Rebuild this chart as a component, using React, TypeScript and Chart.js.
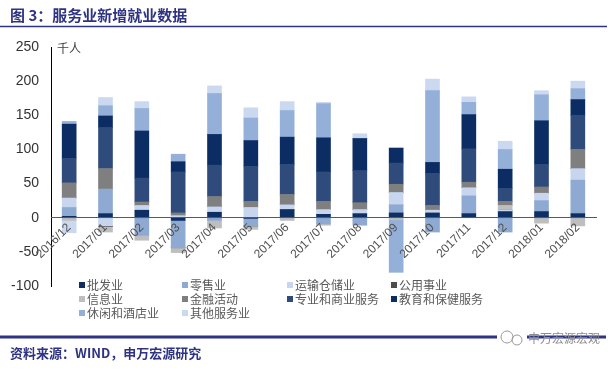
import React, { useEffect, useRef } from "react";
import { Chart, registerables } from "chart.js";

Chart.register(...registerables);

// ---------- data ----------
const categories = [
  "2016/12", "2017/01", "2017/02", "2017/03", "2017/04", "2017/05", "2017/06", "2017/07",
  "2017/08", "2017/09", "2017/10", "2017/11", "2017/12", "2018/01", "2018/02",
];

const seriesNames = [
  "批发业", "零售业", "运输仓储业", "公用事业", "信息业",
  "金融活动", "专业和商业服务", "教育和保健服务", "休闲和酒店业", "其他服务业",
];

const wholesale = [2, 6, 11, -4, 8, -1, 12, 5, 6, 7, 7, 6, 9, 9, 6];
const retail = [13, 36, -26, -40, -4, -11, 0, -9, -11, 12, -21, 26, -21, 16, 49];
const transport = [14, -12, 7, 3, 8, 15, 7, 7, 6, 18, 4, 12, 2, 11, 17];
const utilities = [0, -1, 0, 0, 0, 0, 0, 0, 0, 0, 0, 0, 0, 0, 0];
const information = [-4, -8, -7, -7, -11, -5, -4, -2, 0, -3, 0, 0, 7, -8, -12];
const financial = [22, 30, 5, 4, 15, 9, 15, 12, 10, 12, 7, 8, 6, 9, 28];
const professional = [36, 60, 35, 60, 46, 51, 44, 43, 47, 31, 47, 49, 19, 33, 50];
const eduHealth = [50, 17, 69, 15, 45, 38, 40, 50, 47, 22, 16, 50, 28, 64, 23];
const leisure = [4, 15, 33, 11, 60, 33, 39, 50, 0, -77, 105, 18, 29, 38, 16];
const otherServices = [-18, 12, 10, 0, 11, 15, 13, 2, 7, 0, 17, 8, 12, 6, 11];

const seriesValues = [
  wholesale, retail, transport, utilities, information,
  financial, professional, eduHealth, leisure, otherServices,
];

const yMin = -100;
const yMax = 250;
const yStep = 50;

const titleText = "图 3：服务业新增就业数据";
const sourceText = "资料来源：WIND，申万宏源研究";
const unitText = "千人";
const watermarkText = "申万宏源宏观";

// ---------- styles ----------
const COLORS = [
  "#0E2F62", "#8FAAD2", "#C7D6EE", "#4D4D4D", "#BEBEBE",
  "#7F7F7F", "#2F4B7C", "#0B2D63", "#95B0D8", "#CAD9F0",
];
const NAVY = "#2E3382";
const CJK = '"Noto Sans CJK SC", "Noto Sans", sans-serif';
const NUM = '"Liberation Sans", Arial, sans-serif';

export default function App() {
  const ref = useRef<HTMLCanvasElement>(null);

  useEffect(() => {
    const canvas = ref.current;
    if (!canvas) return;

    const overlay = {
      id: "overlay",
      beforeDraw(chart: any) {
        const ctx = chart.ctx;
        ctx.save();
        ctx.fillStyle = "#ffffff";
        ctx.fillRect(0, 0, chart.width, chart.height);
        ctx.restore();
      },
      afterDraw(chart: any) {
        const ctx = chart.ctx;
        const area = chart.chartArea;
        ctx.save();
        // title
        ctx.fillStyle = NAVY;
        ctx.font = `bold 15px ${CJK}`;
        ctx.textBaseline = "middle";
        ctx.textAlign = "left";
        ctx.fillText(titleText, 10, 15);
        ctx.strokeStyle = NAVY;
        ctx.lineWidth = 1.5;
        ctx.beginPath();
        ctx.moveTo(0, 26.5);
        ctx.lineTo(607, 26.5);
        ctx.stroke();

        // unit label
        ctx.fillStyle = "#404040";
        ctx.font = `12px ${CJK}`;
        ctx.fillText(unitText, area.left + 6, area.top + 1);

        // legend
        const cols = [82, 185, 290, 394];
        const rows = [285, 299, 313];
        ctx.font = `12px ${CJK}`;
        chart.data.datasets.forEach((ds: any, i: number) => {
          const cx = cols[i % 4];
          const cy = rows[Math.floor(i / 4)];
          ctx.fillStyle = ds.backgroundColor;
          ctx.fillRect(cx - 3, cy - 3, 6, 6);
          ctx.fillStyle = "#595959";
          ctx.fillText(ds.label, cx + 5, cy);
        });

        // bottom rule + source
        ctx.strokeStyle = NAVY;
        ctx.lineWidth = 3;
        ctx.beginPath();
        ctx.moveTo(0, 337);
        ctx.lineTo(606, 337);
        ctx.stroke();
        ctx.fillStyle = NAVY;
        ctx.font = `bold 13px ${CJK}`;
        ctx.fillText(sourceText, 10, 353);

        // watermark
        ctx.fillStyle = "#ffffff";
        ctx.fillRect(497, 329, 30, 18);
        ctx.strokeStyle = "#9a9a9a";
        ctx.lineWidth = 1;
        ctx.beginPath();
        ctx.arc(507, 337, 6, 0, Math.PI * 2);
        ctx.stroke();
        ctx.beginPath();
        ctx.arc(517, 340, 5, 0, Math.PI * 2);
        ctx.stroke();
        ctx.fillStyle = "#8c8c8c";
        ctx.font = `12px ${CJK}`;
        ctx.fillText(watermarkText, 528, 338);
        ctx.restore();
      },
    };

    const chart = new Chart(canvas, {
      type: "bar",
      data: {
        labels: categories,
        datasets: seriesNames.map((name, i) => ({
          label: name,
          data: seriesValues[i],
          backgroundColor: COLORS[i],
          borderWidth: 0,
          barThickness: 14,
        })),
      },
      options: {
        animation: false,
        responsive: false,
        devicePixelRatio: 1,
        layout: { padding: { left: 7, top: 47, right: 19, bottom: 83 } },
        plugins: {
          legend: { display: false },
          tooltip: { enabled: false },
        },
        scales: {
          x: {
            stacked: true,
            position: { y: 0 } as any,
            grid: { display: false, drawTicks: false },
            border: { display: true, color: "#595959", width: 1, z: 1 },
            ticks: {
              autoSkip: false,
              minRotation: 45,
              maxRotation: 45,
              padding: 3,
              color: "#505050",
              font: { family: NUM, size: 12 },
              z: 1,
            },
          },
          y: {
            stacked: true,
            min: yMin,
            max: yMax,
            grid: { display: false, drawTicks: false },
            border: { display: true, color: "#000000", width: 1 },
            ticks: {
              stepSize: yStep,
              padding: 12,
              color: "#333333",
              font: { family: NUM, size: 14 },
            },
            afterFit: (s: any) => {
              s.width = 44;
            },
          },
        },
      },
      plugins: [overlay],
    });

    return () => chart.destroy();
  }, []);

  return (
    <div style={{ position: "fixed", left: 0, top: 0, width: 615, height: 369, background: "#fff" }}>
      <canvas ref={ref} width={615} height={369} style={{ display: "block" }} />
    </div>
  );
}
